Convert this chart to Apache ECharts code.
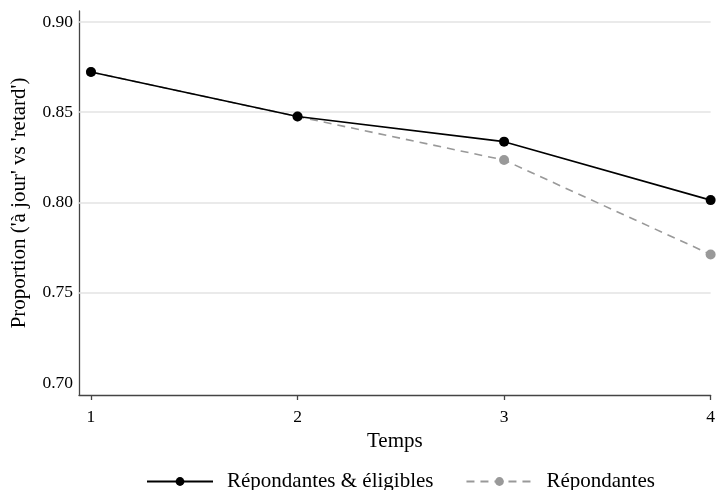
<!DOCTYPE html>
<html><head><meta charset="utf-8">
<script src="https://cdn.jsdelivr.net/npm/echarts@6/dist/echarts.min.js"></script>
<style>html,body{margin:0;padding:0;background:#fff}#c{width:718px;height:490px}</style>
</head><body><div id="c"></div>
<script>
const times = [1, 2, 3, 4];
const eligibles = [0.8723, 0.8476, 0.8337, 0.8013];
const repondantes = [0.8723, 0.8476, 0.8235, 0.7712];
const yTicks = [0.70, 0.75, 0.80, 0.85, 0.90];
const gridValues = [0.75, 0.80, 0.85, 0.90];
const seriesNames = ['Répondantes & éligibles', 'Répondantes'];

const font = 'Liberation Serif';
const chart = echarts.init(document.getElementById('c'), null, {renderer: 'canvas'});
chart.setOption({
  animation: false,
  backgroundColor: '#fff',
  textStyle: {fontFamily: font},
  grid: {left: 79, right: 3, top: 11, bottom: 95, containLabel: false},
  xAxis: {
    type: 'value', min: 0.942, max: 4.0,
    name: 'Temps', nameLocation: 'middle', nameGap: 32,
    nameTextStyle: {fontFamily: font, fontSize: 21, color: '#000'},
    axisLine: {show: true, onZero: false, lineStyle: {color: '#444', width: 1.3}},
    axisTick: {show: true, length: 5, customValues: times, lineStyle: {color: '#444', width: 1.3}},
    axisLabel: {customValues: times, fontFamily: font, fontSize: 17.5, color: '#000', margin: 13},
    splitLine: {show: false}
  },
  yAxis: {
    type: 'value', min: 0.6933, max: 0.9061,
    name: "Proportion ('à jour' vs 'retard')", nameLocation: 'middle', nameGap: 49,
    nameTextStyle: {fontFamily: font, fontSize: 21, color: '#000'},
    axisLine: {show: true, onZero: false, lineStyle: {color: '#444', width: 1.3}},
    axisTick: {show: false},
    axisLabel: {customValues: yTicks, fontFamily: font, fontSize: 17.5, color: '#000', margin: 6,
      formatter: v => v.toFixed(2)},
    splitLine: {show: false}
  },
  legend: {
    top: 466, left: 141, itemWidth: 66, itemHeight: 11, itemGap: 32,
    textStyle: {fontFamily: font, fontSize: 21, color: '#000', padding: [0,0,0,9]},
    data: seriesNames
  },
  series: [
    {
      name: seriesNames[0], type: 'line',
      data: times.map((t, i) => [t, eligibles[i]]),
      symbol: 'circle', symbolSize: 10, z: 3,
      itemStyle: {color: '#000'},
      lineStyle: {color: '#000', width: 1.6, type: 'solid'},
      markLine: {
        silent: true, symbol: 'none', z: 1,
        label: {show: false},
        lineStyle: {color: '#e3e3e3', width: 1.5, type: 'solid'},
        data: gridValues.map(v => ({yAxis: v}))
      }
    },
    {
      name: seriesNames[1], type: 'line',
      data: times.map((t, i) => [t, repondantes[i]]),
      symbol: 'circle', symbolSize: 10, z: 2,
      itemStyle: {color: '#999'},
      lineStyle: {color: '#999', width: 1.6, type: [8, 6]}
    }
  ]
});
</script></body></html>
